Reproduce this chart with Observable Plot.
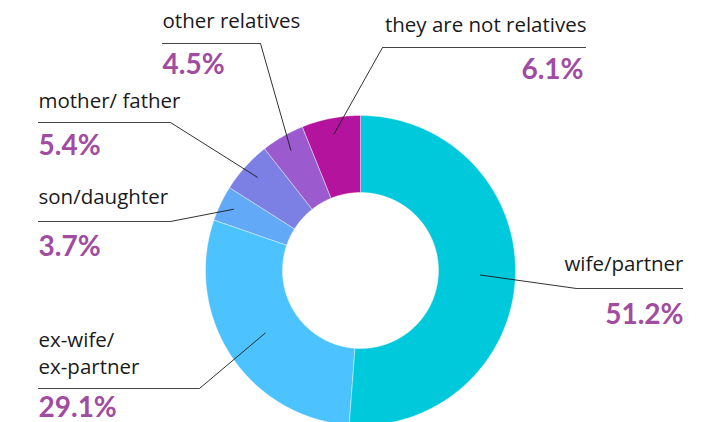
<!DOCTYPE html>
<html><head><meta charset="utf-8">
<script src="https://cdn.jsdelivr.net/npm/d3@7"></script>
<script src="https://cdn.jsdelivr.net/npm/@observablehq/plot@0.6"></script>
<style>body{margin:0;background:#fff;font-family:Lato,sans-serif}</style>
</head><body><div id="chart"></div>
<script>
const categories = ["wife/partner", "ex-wife/\nex-partner", "son/daughter", "mother/ father", "other relatives", "they are not relatives"];
const values = [51.2, 29.1, 3.7, 5.4, 4.5, 6.1];
const percentLabels = ["51.2%", "29.1%", "3.7%", "5.4%", "4.5%", "6.1%"];
const colors = ["#00c9db", "#4cc3ff", "#62a9f7", "#7c7fe4", "#9b5bcf", "#b4139e"];

// layout (pixel space)
const W = 718, H = 422;
const cx = 360, cy = 270, R = 155, r0 = 78;
const layout = [
  {lr: 120, elbow: [576, 288], end: 683, anchor: "end", tx: 683, ty: 270, px: 683, py: 323},
  {lr: 114, elbow: [199, 388], end: 38, anchor: "start", tx: 38, ty: 373, px: 38, py: 416},
  {lr: 141, elbow: [170, 221], end: 38, anchor: "start", tx: 38, ty: 203, px: 38, py: 255},
  {lr: 139, elbow: [170, 122], end: 38, anchor: "start", tx: 38, ty: 107, px: 38, py: 154},
  {lr: 139, elbow: [260, 43], end: 162, anchor: "start", tx: 162, ty: 27, px: 162, py: 73},
  {lr: 139, elbow: [382, 47], end: 586, anchor: "end", tx: 586, ty: 31, px: 583, py: 78}
];

const pie = d3.pie().sort(null).value(d => d)(values);
const pt = (a, rad) => ({x: cx + rad * Math.sin(a), y: cy - rad * Math.cos(a)});

const slicePts = [];
pie.forEach((p, i) => {
  const n = Math.max(8, Math.ceil((p.endAngle - p.startAngle) / 0.01));
  for (let k = 0; k <= n; k++) slicePts.push({...pt(p.startAngle + (p.endAngle - p.startAngle) * k / n, R), cat: categories[i]});
  for (let k = n; k >= 0; k--) slicePts.push({...pt(p.startAngle + (p.endAngle - p.startAngle) * k / n, r0), cat: categories[i]});
});

const leaderPts = [];
const underlines = [];
pie.forEach((p, i) => {
  const L = layout[i];
  const mid = (p.startAngle + p.endAngle) / 2;
  leaderPts.push({...pt(mid, L.lr), cat: categories[i]});
  leaderPts.push({x: L.elbow[0], y: L.elbow[1], cat: categories[i]});
  underlines.push({x1: L.elbow[0], x2: L.end, y: L.elbow[1]});
});

const labels = categories.map((c, i) => ({text: c, x: layout[i].tx, y: layout[i].ty, anchor: layout[i].anchor}));
const pcts = percentLabels.map((t, i) => ({text: t, x: layout[i].px, y: layout[i].py, anchor: layout[i].anchor}));

const labelFont = "'Open Sans', sans-serif";
const labelSize = 20.5;
const chart = Plot.plot({
  width: W, height: H, margin: 0,
  x: {domain: [0, W], range: [0, W], axis: null},
  y: {domain: [0, H], range: [0, H], axis: null},
  color: {domain: categories, range: colors},
  style: {fontFamily: "Lato, sans-serif", background: "#fff"},
  marks: [
    Plot.line(slicePts, {x: "x", y: "y", z: "cat", fill: "cat", stroke: "#ffffff", strokeWidth: 0.4, curve: "linear-closed"}),
    Plot.line(leaderPts, {x: "x", y: "y", z: "cat", stroke: "#1a1a1a", strokeWidth: 0.9}),
    Plot.ruleY(underlines, {x1: "x1", x2: "x2", y: "y", stroke: "#444", strokeWidth: 1.2}),
    Plot.text(labels.filter(d => d.anchor === "start"), {x: "x", y: "y", text: "text", textAnchor: "start", lineAnchor: "bottom", lineHeight: 1.3, fontSize: labelSize, fontFamily: labelFont, fill: "#1a1a1a"}),
    Plot.text(labels.filter(d => d.anchor === "end"), {x: "x", y: "y", text: "text", textAnchor: "end", lineAnchor: "bottom", fontSize: labelSize, fontFamily: labelFont, fill: "#1a1a1a"}),
    Plot.text(pcts.filter(d => d.anchor === "start"), {x: "x", y: "y", text: "text", textAnchor: "start", lineAnchor: "bottom", fontSize: 28, fontWeight: "bold", fill: "#a04ca0"}),
    Plot.text(pcts.filter(d => d.anchor === "end"), {x: "x", y: "y", text: "text", textAnchor: "end", lineAnchor: "bottom", fontSize: 28, fontWeight: "bold", fill: "#a04ca0"})
  ]
});
document.getElementById("chart").appendChild(chart);
</script>
</body></html>
